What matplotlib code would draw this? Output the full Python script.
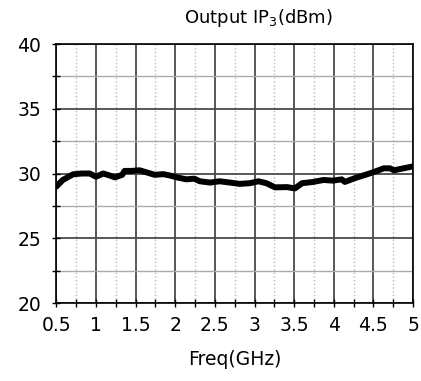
import matplotlib
matplotlib.use("Agg")
import matplotlib.pyplot as plt
from matplotlib.ticker import MultipleLocator

plt.rcParams["font.family"] = ["DejaVu Sans"]
plt.rcParams["mathtext.default"] = "regular"

# frequency (GHz) and output IP3 (dBm)
freq = [0.5, 0.58, 0.71, 0.82, 0.92, 1.0, 1.09, 1.17, 1.24, 1.33, 1.36, 1.45,
        1.55, 1.63, 1.74, 1.85, 1.93, 2.02, 2.14, 2.24, 2.31, 2.44, 2.56, 2.69,
        2.81, 2.94, 3.05, 3.15, 3.26, 3.41, 3.51, 3.6, 3.74, 3.87, 3.99, 4.1,
        4.14, 4.27, 4.4, 4.5, 4.63, 4.71, 4.76, 4.88, 5.0]
oip3 = [29.0, 29.5, 29.94, 30.0, 30.0, 29.75, 30.0, 29.85, 29.7, 29.9, 30.2, 30.2,
        30.25, 30.1, 29.9, 29.95, 29.85, 29.7, 29.55, 29.6, 29.4, 29.3, 29.4, 29.3,
        29.2, 29.25, 29.4, 29.25, 28.93, 28.95, 28.85, 29.25, 29.35, 29.5, 29.45, 29.55,
        29.35, 29.65, 29.9, 30.1, 30.4, 30.4, 30.25, 30.4, 30.55]
xticks = [0.5, 1, 1.5, 2, 2.5, 3, 3.5, 4, 4.5, 5]
xtick_labels = ["0.5", "1", "1.5", "2", "2.5", "3", "3.5", "4", "4.5", "5"]

fig = plt.figure(figsize=(4.21, 3.81), dpi=100)
ax = fig.add_axes([0.134, 0.2047, 0.847, 0.6798])

ax.plot(freq, oip3, color="black", linewidth=4.3, solid_capstyle="round",
        solid_joinstyle="round", zorder=3)

ax.set_xlim(0.5, 5)
ax.set_ylim(20, 40)
ax.set_xticks(xticks)
ax.set_xticklabels(xtick_labels)
ax.xaxis.set_minor_locator(MultipleLocator(0.25))
ax.yaxis.set_major_locator(MultipleLocator(5))
ax.yaxis.set_minor_locator(MultipleLocator(2.5))

ax.grid(which="major", color="#4a4a4a", linewidth=1.3)
ax.grid(which="minor", axis="y", color="#aaaaaa", linewidth=1.0)
ax.grid(which="minor", axis="x", color="#bbbbbb", linewidth=1.0, linestyle=":")
ax.set_axisbelow(True)

ax.tick_params(which="both", direction="inout", length=6, width=1,
               labelsize=13.5, top=False, right=False)
ax.tick_params(axis="x", pad=6)
ax.tick_params(axis="y", pad=8)

for s in ax.spines.values():
    s.set_color("black")
    s.set_linewidth(1.2)

ax.set_xlabel("Freq(GHz)", fontsize=13.5, labelpad=11)
fig.text(0.613, 0.953, "Output IP$_3$(dBm)", fontsize=13, ha="center", va="center")

fig.savefig("out.png", dpi=100)
